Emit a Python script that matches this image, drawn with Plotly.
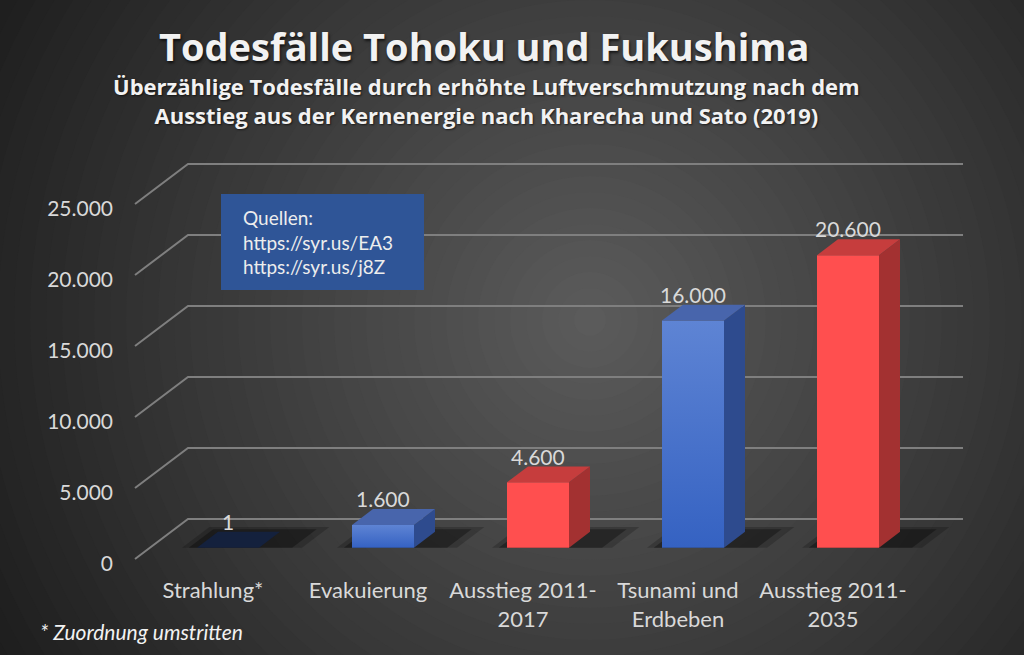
import plotly.graph_objects as go

# data
categories = ["Strahlung*", "Evakuierung", "Ausstieg 2011-<br>2017",
              "Tsunami und<br>Erdbeben", "Ausstieg 2011-<br>2035"]
deaths = [1, 1600, 4600, 16000, 20600]
value_labels = ["1", "1.600", "4.600", "16.000", "20.600"]
bar_kind = ["strahlung", "blue", "red", "blue", "red"]
y_tickvals = [0, 5000, 10000, 15000, 20000, 25000]
y_ticktext = ["0", "5.000", "10.000", "15.000", "20.000", "25.000"]

# page / pseudo-3D geometry
W, H = 1024, 655
ML, MR, MT, MB = 120, 24, 140, 85
PX_CAT = 155          # pixels per category
CAT0_PX = 213         # first category on the front plane
PX_VAL = 0.0142       # pixels per death
ZERO_PX = 559         # value 0 on the front plane
DX = 53 / PX_CAT      # full floor depth, in category units
DY = 40 / PX_VAL      # full floor depth, in value units
BAR_W = 62 / PX_CAT
D1, D2 = 15 / 53, 36 / 53   # front and back depth of the bars

colors = {
    "red": dict(front="#FF4F4F", side="#A33131", top="#C63D3D"),
    "blue": dict(front="#4A72CC", side="#2E4B8E", top="#4865AC"),
    "strahlung": dict(front="#14213D", side="#14213D", top="#14213D"),
}


def px2paper(x, y):
    return (x - ML) / (W - ML - MR), 1 - (y - MT) / (H - MT - MB)


def pt(c, v, d):
    return c + d * DX, v + d * DY


def poly(pts, fill, gradient=None):
    xs = [p[0] for p in pts] + [pts[0][0]]
    ys = [p[1] for p in pts] + [pts[0][1]]
    kw = dict(fillgradient=gradient) if gradient else dict(fillcolor=fill)
    return go.Scatter(x=xs, y=ys, mode="lines", fill="toself", line=dict(width=0),
                      hoverinfo="skip", showlegend=False, **kw)


fig = go.Figure()

# floor / wall grid lines
gx, gy = [], []
c_left = (135 - CAT0_PX) / PX_CAT
c_right = (963 - CAT0_PX) / PX_CAT - DX
for v in y_tickvals:
    for c, d in [(c_left, 0), (c_left, 1), (c_right, 1)]:
        x, y = pt(c, v, d)
        gx.append(x)
        gy.append(y)
    gx.append(None)
    gy.append(None)
fig.add_trace(go.Scatter(x=gx, y=gy, mode="lines", line=dict(color="#7F7F7F", width=2),
                         hoverinfo="skip", showlegend=False))

# bars
for i, v in enumerate(deaths):
    col = colors[bar_kind[i]]
    l, r = i - BAR_W / 2, i + BAR_W / 2
    # soft floor shadow
    for grow, alpha in [(1.0, 0.2), (0.55, 0.32)]:
        sl = l - grow * 15 / PX_CAT
        sr = r + DX * (D2 - D1) + grow * 22 / PX_CAT
        fig.add_trace(poly([pt(sl, 0, D1), pt(sr, 0, D1), pt(sr, 0, D2 + grow * 0.12),
                            pt(sl, 0, D2 + grow * 0.12)], "rgba(0,0,0,%.2f)" % alpha))
    if bar_kind[i] == "blue":
        grad = dict(type="vertical", colorscale=[[0, "#3562C2"], [1, "#5E84D4"]])
    else:
        grad = None
    fig.add_trace(poly([pt(l, 0, D1), pt(r, 0, D1), pt(r, v, D1), pt(l, v, D1)],
                       col["front"], grad))
    fig.add_trace(poly([pt(r, 0, D1), pt(r, 0, D2), pt(r, v, D2), pt(r, v, D1)], col["side"]))
    fig.add_trace(poly([pt(l, v, D1), pt(r, v, D1), pt(r, v, D2), pt(l, v, D2)], col["top"]))
    lx, ly = pt(i, v, D1)
    fig.add_annotation(x=lx, y=v + D2 * DY, text=value_labels[i], showarrow=False,
                       yanchor="bottom", yshift=-4,
                       font=dict(size=21, color="#D9D9D9"))

# radial background made of stacked circles
shapes = []
cx, cy = 590, 320
N = 45
for k in range(N):
    r = 720 * (1 - k / N)
    t = min(r / 680, 1)
    g = int(round(92 - (92 - 30) * t))
    x0, y0 = px2paper(cx - r, cy + r)
    x1, y1 = px2paper(cx + r, cy - r)
    shapes.append(dict(type="circle", xref="paper", yref="paper", x0=x0, y0=y0, x1=x1, y1=y1,
                       fillcolor="rgb(%d,%d,%d)" % (g, g, g), line=dict(width=0), layer="below"))

# sources box
bx0, by0 = px2paper(221, 290)
bx1, by1 = px2paper(424, 194)
shapes.append(dict(type="rect", xref="paper", yref="paper", x0=bx0, y0=by0, x1=bx1, y1=by1,
                   fillcolor="#2F5597", line=dict(width=0), layer="above"))
tx, ty = px2paper(241, 204)
fig.add_annotation(xref="paper", yref="paper", x=tx, y=ty, xanchor="left", yanchor="top",
                   align="left", showarrow=False,
                   text="Quellen:<br>https://syr.us/EA3<br>https://syr.us/j8Z",
                   font=dict(size=19, color="#EDEDED"))

# titles
t1x, t1y = px2paper(484, 46)
fig.add_annotation(xref="paper", yref="paper", x=t1x, y=t1y, yanchor="middle", showarrow=False,
                   text="<b>Todesfälle Tohoku und Fukushima</b>",
                   font=dict(family="Open Sans", size=38, color="#F2F2F2",
                             shadow="1px 2px 3px rgba(0,0,0,0.7)"))
t2x, t2y = px2paper(486, 100)
fig.add_annotation(xref="paper", yref="paper", x=t2x, y=t2y, yanchor="middle", showarrow=False,
                   text="<b>Überzählige Todesfälle durch erhöhte Luftverschmutzung nach dem<br>"
                        "Ausstieg aus der Kernenergie nach Kharecha und Sato (2019)</b>",
                   font=dict(family="Open Sans", size=22, color="#F2F2F2",
                             shadow="1px 1px 2px rgba(0,0,0,0.6)"))
fx, fy = px2paper(38, 631)
fig.add_annotation(xref="paper", yref="paper", x=fx, y=fy, xanchor="left", yanchor="middle",
                   showarrow=False, text="<i>* Zuordnung umstritten</i>",
                   font=dict(size=21, color="#F2F2F2"))

fig.update_layout(
    width=W, height=H,
    margin=dict(l=ML, r=MR, t=MT, b=MB, autoexpand=False),
    paper_bgcolor="#1F1F1F", plot_bgcolor="rgba(0,0,0,0)",
    font=dict(family="Lato", color="#D9D9D9"),
    shapes=shapes,
    showlegend=False,
    xaxis=dict(range=[(ML - CAT0_PX) / PX_CAT, (W - MR - CAT0_PX) / PX_CAT],
               tickmode="array", tickvals=list(range(len(categories))), ticktext=categories,
               tickfont=dict(size=22, color="#D9D9D9"), showgrid=False, zeroline=False,
               showline=False, ticks="", ticklabelstandoff=5, fixedrange=True),
    yaxis=dict(range=[(ZERO_PX - (H - MB)) / PX_VAL, (ZERO_PX - MT) / PX_VAL],
               tickmode="array", tickvals=y_tickvals, ticktext=y_ticktext,
               tickfont=dict(size=21, color="#D9D9D9"), showgrid=False, zeroline=False,
               showline=False, ticks="", ticklabelstandoff=6, ticklabelshift=5,
               fixedrange=True),
)

fig.write_html("out.html", config={"displayModeBar": False})

# drop the browser's default body margin so the chart fills the window
with open("out.html", encoding="utf-8") as f:
    page = f.read()
page = page.replace("<head>", "<head><style>html,body{margin:0;padding:0;overflow:hidden;}</style>", 1)
with open("out.html", "w", encoding="utf-8") as f:
    f.write(page)
